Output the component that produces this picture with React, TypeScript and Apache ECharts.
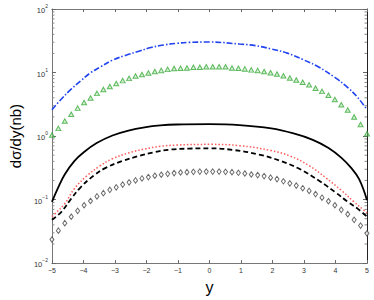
import React, { useEffect, useRef } from "react";
import * as echarts from "echarts";

// rapidity grid used by the marker series (50 evenly spaced points from -5 to 5)
const markerX: number[] = Array.from({ length: 50 }, (_, i) => -5 + (i * 10) / 49);

const triangleValues: number[] = [
  1.04, 1.32, 1.72, 2.2, 2.75, 3.37, 3.97, 4.7, 5.42, 6.03, 6.7, 7.46, 8.09, 8.81, 9.33, 9.81, 10.4, 10.8, 11.2, 11.6, 11.7, 11.8, 12.1, 12.1, 12.3,
  12.3, 12.3, 12.3, 11.8, 11.7, 11.4, 11.0, 10.8, 10.4, 9.9, 9.46, 8.9, 8.2, 7.64, 7.02, 6.4, 5.67, 5.05, 4.38, 3.76, 3.1, 2.57, 2.0, 1.52, 1.09,
];

const diamondValues: number[] = [
  0.0235, 0.0324, 0.0425, 0.0537, 0.0665, 0.0814, 0.095, 0.112, 0.126, 0.1425, 0.156, 0.172, 0.187, 0.2, 0.215, 0.226, 0.237, 0.246, 0.254, 0.261, 0.267, 0.27, 0.273, 0.276, 0.276,
  0.276, 0.276, 0.273, 0.27, 0.264, 0.257, 0.248, 0.243, 0.234, 0.221, 0.21, 0.194, 0.18, 0.166, 0.151, 0.137, 0.122, 0.107, 0.094, 0.0815, 0.069, 0.059, 0.048, 0.039, 0.0294,
];

const blueDashDot: [number, number][] = [
  [-5, 2.6], [-4.7, 3.84], [-4.39, 5.47], [-4.09, 7.38], [-3.79, 9.8], [-3.48, 12.1], [-3.08, 15.6], [-2.67, 18.6], [-2.27, 21.4], [-1.86, 24.7],
  [-1.46, 27.1], [-1.05, 28.8], [-0.65, 29.8], [0, 30.2], [0.95, 28.1], [1.46, 26.5], [1.96, 23.5], [2.47, 20.2], [2.98, 15.9], [3.48, 12.1],
  [3.99, 8.3], [4.39, 5.8], [4.7, 4.07], [5, 2.6],
];

const blackSolid: [number, number][] = [
  [-5, 0.092], [-4.8, 0.156], [-4.59, 0.251], [-4.29, 0.404], [-3.99, 0.556], [-3.58, 0.775], [-3.08, 1.02], [-2.57, 1.22], [-2.06, 1.37],
  [-1.56, 1.47], [-1.05, 1.52], [0, 1.54], [0.95, 1.49], [1.96, 1.32], [2.67, 1.1], [3.28, 0.873], [3.78, 0.649], [4.19, 0.454], [4.49, 0.318],
  [4.75, 0.21], [5, 0.098],
];

const redDotted: [number, number][] = [
  [-5, 0.054], [-4.9, 0.06], [-4.59, 0.0865], [-4.29, 0.148], [-3.89, 0.237], [-3.48, 0.338], [-3.08, 0.439], [-2.57, 0.542], [-2.06, 0.625],
  [-1.56, 0.688], [-1.05, 0.722], [0, 0.74], [0.95, 0.706], [1.96, 0.59], [2.57, 0.482], [3.18, 0.338], [3.68, 0.223], [4.19, 0.139],
  [4.59, 0.092], [4.9, 0.068], [5, 0.062],
];

const blackDashed: [number, number][] = [
  [-5, 0.048], [-4.7, 0.064], [-4.39, 0.103], [-4.09, 0.156], [-3.68, 0.237], [-3.28, 0.318], [-2.77, 0.404], [-2.27, 0.482], [-1.76, 0.556],
  [-1.25, 0.612], [-0.65, 0.634], [0, 0.641], [0.75, 0.604], [1.56, 0.513], [2.27, 0.404], [2.88, 0.3], [3.48, 0.198], [3.99, 0.131],
  [4.39, 0.092], [4.7, 0.072], [5, 0.054],
];

const minorTickValues: number[] = [
  0.02, 0.03, 0.04, 0.05, 0.06, 0.07, 0.08, 0.09,
  0.2, 0.3, 0.4, 0.5, 0.6, 0.7, 0.8, 0.9,
  2, 3, 4, 5, 6, 7, 8, 9,
  20, 30, 40, 50, 60, 70, 80, 90,
];

const supMap: Record<number, string> = { [-2]: "−2", [-1]: "−1", 0: "0", 1: "1", 2: "2" };

const FONT = "Liberation Sans, Arial, Helvetica, sans-serif";

export default function App() {
  const ref = useRef<HTMLDivElement>(null);
  useEffect(() => {
    if (!ref.current) return;
    const chart = echarts.init(ref.current, undefined, { renderer: "svg" });
    const frameColor = "#777";
    const tickColor = "#666";
    const grid = { left: 37, right: 7, top: 9, bottom: 31 };
    chart.setOption({
      animation: false,
      backgroundColor: "#fff",
      grid,
      xAxis: [
        {
          type: "value",
          min: -5,
          max: 5,
          interval: 1,
          position: "bottom",
          name: "y",
          nameLocation: "middle",
          nameGap: 13,
          nameTextStyle: { fontFamily: FONT, fontSize: 16, color: "#000" },
          axisLine: { show: true, onZero: false, lineStyle: { color: frameColor, width: 1 } },
          axisTick: { show: true, inside: true, length: 3, lineStyle: { color: tickColor } },
          axisLabel: {
            fontFamily: FONT,
            fontSize: 7,
            color: "#333",
            margin: 4,
            formatter: (v: number) => String(v).replace("-", "−"),
          },
          splitLine: { show: false },
        },
        {
          type: "value",
          min: -5,
          max: 5,
          interval: 1,
          position: "top",
          axisLine: { show: true, onZero: false, lineStyle: { color: frameColor, width: 1 } },
          axisTick: { show: true, inside: true, length: 3, lineStyle: { color: tickColor } },
          axisLabel: { show: false },
          splitLine: { show: false },
        },
      ],
      yAxis: [
        {
          type: "log",
          logBase: 10,
          min: 0.01,
          max: 100,
          position: "left",
          name: "dσ/dy(nb)",
          nameLocation: "middle",
          nameGap: 15,
          nameRotate: 90,
          nameTextStyle: { fontFamily: FONT, fontSize: 15, color: "#000" },
          axisLine: { show: true, onZero: false, lineStyle: { color: frameColor, width: 1 } },
          axisTick: { show: true, inside: true, length: 4, lineStyle: { color: tickColor } },
          axisLabel: {
            fontFamily: FONT,
            margin: 4,
            color: "#333",
            formatter: (v: number) => {
              const e = Math.round(Math.log10(v));
              return `{b|10}{s|${supMap[e]}}`;
            },
            rich: {
              b: { fontFamily: FONT, fontSize: 7.5, color: "#333", lineHeight: 11, verticalAlign: "bottom" },
              s: { fontFamily: FONT, fontSize: 5, color: "#333", lineHeight: 11, verticalAlign: "top" },
            },
          },
          splitLine: { show: false },
        },
        {
          type: "log",
          logBase: 10,
          min: 0.01,
          max: 100,
          position: "right",
          axisLine: { show: true, onZero: false, lineStyle: { color: "#222", width: 1 } },
          axisTick: { show: true, inside: true, length: 4, lineStyle: { color: tickColor } },
          axisLabel: { show: false },
          splitLine: { show: false },
        },
      ],
      series: [
        {
          type: "custom",
          name: "minorTicks",
          xAxisIndex: 0,
          yAxisIndex: 0,
          silent: true,
          data: minorTickValues.map((v) => [-5, v]),
          renderItem: (params: any, api: any) => {
            const v = api.value(1);
            const pl = api.coord([-5, v]);
            const pr = api.coord([5, v]);
            return {
              type: "group",
              children: [
                { type: "line", shape: { x1: pl[0], y1: pl[1], x2: pl[0] + 2.5, y2: pl[1] }, style: { stroke: "#888", lineWidth: 1 } },
                { type: "line", shape: { x1: pr[0], y1: pr[1], x2: pr[0] - 2.5, y2: pr[1] }, style: { stroke: "#888", lineWidth: 1 } },
              ],
            };
          },
        },
        {
          type: "line",
          name: "blue",
          data: blueDashDot,
          smooth: 0.4,
          showSymbol: false,
          lineStyle: { color: "#2244ee", width: 1.6, type: [6, 2, 1.5, 2] },
        },
        {
          type: "scatter",
          name: "triangles",
          data: markerX.map((x, i) => [x, triangleValues[i]]),
          symbol: "triangle",
          symbolSize: [5, 4.5],
          itemStyle: { color: "rgba(150,215,150,0.5)", borderColor: "#3aaa3a", borderWidth: 1 },
        },
        {
          type: "line",
          name: "solid",
          data: blackSolid,
          smooth: 0.4,
          showSymbol: false,
          lineStyle: { color: "#000", width: 1.8, type: "solid" },
        },
        {
          type: "line",
          name: "red",
          data: redDotted,
          smooth: 0.4,
          showSymbol: false,
          lineStyle: { color: "#ff5a5a", width: 1.5, type: [1.5, 2] },
        },
        {
          type: "line",
          name: "dashed",
          data: blackDashed,
          smooth: 0.4,
          showSymbol: false,
          lineStyle: { color: "#000", width: 1.8, type: [5, 3] },
        },
        {
          type: "scatter",
          name: "diamonds",
          data: markerX.map((x, i) => [x, diamondValues[i]]),
          symbol: "diamond",
          symbolSize: [4, 5.5],
          itemStyle: { color: "#fff", borderColor: "#444", borderWidth: 1 },
        },
      ],
    });
    return () => chart.dispose();
  }, []);
  return (
    <div
      ref={ref}
      style={{ position: "fixed", left: 0, top: 0, width: 374, height: 300, background: "#fff" }}
    />
  );
}
